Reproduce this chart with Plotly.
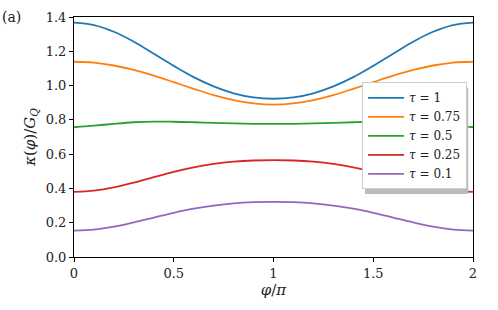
import plotly.graph_objects as go

phi = [0.0, 0.1, 0.2, 0.3, 0.4, 0.5, 0.6, 0.7, 0.8, 0.9, 1.0,
       1.1, 1.2, 1.3, 1.4, 1.5, 1.6, 1.7, 1.8, 1.9, 2.0]

kappa_tau_1 = [1.367, 1.353, 1.314, 1.256, 1.186, 1.115, 1.049, 0.995, 0.955, 0.931, 0.923,
               0.931, 0.955, 0.995, 1.049, 1.115, 1.186, 1.256, 1.314, 1.353, 1.367]
kappa_tau_075 = [1.139, 1.134, 1.117, 1.091, 1.058, 1.020, 0.981, 0.944, 0.915, 0.896, 0.889,
                 0.896, 0.915, 0.944, 0.981, 1.020, 1.058, 1.091, 1.117, 1.134, 1.139]
kappa_tau_05 = [0.757, 0.766, 0.777, 0.786, 0.790, 0.789, 0.786, 0.782, 0.779, 0.777, 0.777,
                0.777, 0.779, 0.782, 0.786, 0.789, 0.790, 0.786, 0.777, 0.766, 0.757]
kappa_tau_025 = [0.380, 0.387, 0.406, 0.434, 0.466, 0.497, 0.523, 0.543, 0.556, 0.563, 0.565,
                 0.563, 0.556, 0.543, 0.523, 0.497, 0.466, 0.434, 0.406, 0.387, 0.380]
kappa_tau_01 = [0.154, 0.160, 0.177, 0.202, 0.230, 0.258, 0.282, 0.300, 0.313, 0.320, 0.322,
                0.320, 0.313, 0.300, 0.282, 0.258, 0.230, 0.202, 0.177, 0.160, 0.154]

series_names = ["<i>τ</i> = 1", "<i>τ</i> = 0.75", "<i>τ</i> = 0.5", "<i>τ</i> = 0.25", "<i>τ</i> = 0.1"]
series_values = [kappa_tau_1, kappa_tau_075, kappa_tau_05, kappa_tau_025, kappa_tau_01]
colors = ["#1f77b4", "#ff7f0e", "#2ca02c", "#d62728", "#9467bd"]

x_tickvals = [0, 0.5, 1, 1.5, 2]
x_ticktext = ["0", "0.5", "1", "1.5", "2"]
y_tickvals = [0.0, 0.2, 0.4, 0.6, 0.8, 1.0, 1.2, 1.4]
y_ticktext = ["0.0", "0.2", "0.4", "0.6", "0.8", "1.0", "1.2", "1.4"]

FONT = "DejaVu Serif"

fig = go.Figure()
for name, vals, c in zip(series_names, series_values, colors):
    fig.add_trace(go.Scatter(x=phi, y=vals, mode="lines", name=name,
                             line=dict(color=c, width=1.8, shape="spline", smoothing=1.0)))

fig.update_layout(
    width=498, height=310,
    margin=dict(l=74, r=25, t=10, b=53),
    paper_bgcolor="white", plot_bgcolor="white",
    font=dict(family=FONT, size=13, color="#222"),
    showlegend=True,
    legend=dict(x=0.722, y=0.728, xanchor="left", yanchor="top",
                bgcolor="white", bordercolor="#cccccc", borderwidth=1,
                font=dict(family=FONT, size=12, color="#222"),
                tracegroupgap=0, itemwidth=36),
    xaxis=dict(range=[0, 2], tickvals=x_tickvals, ticktext=x_ticktext,
               showline=True, linecolor="black", linewidth=1, mirror=True,
               ticks="outside", ticklen=4, tickcolor="black", showgrid=False, zeroline=False,
               title=dict(text="<i>φ</i>/<i>π</i>", standoff=2, font=dict(size=15))),
    yaxis=dict(range=[0, 1.4], tickvals=y_tickvals, ticktext=y_ticktext,
               showline=True, linecolor="black", linewidth=1, mirror=True,
               ticks="outside", ticklen=4, tickcolor="black", showgrid=False, zeroline=False,
               title=dict(text="<i>κ</i>(<i>φ</i>)/<i>G</i><sub><i>Q</i></sub>", standoff=6, font=dict(size=15))),
    annotations=[dict(text="(a)", xref="paper", yref="paper", x=-0.185, y=1.0,
                      xanchor="left", yanchor="middle", showarrow=False,
                      font=dict(family=FONT, size=14, color="#222"))],
    shapes=[dict(type="rect", xref="paper", yref="paper",
                 x0=0.7293, x1=0.988, y0=0.262, y1=0.705,
                 fillcolor="#bbbbbb", line=dict(width=0), layer="above")],
)

fig.write_html("out.html", config={"displayModeBar": False},
               post_script="document.body.style.margin='0';")
